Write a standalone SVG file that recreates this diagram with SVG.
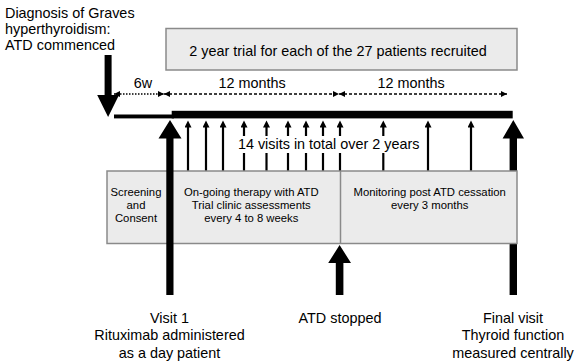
<svg xmlns="http://www.w3.org/2000/svg" width="575" height="361" viewBox="0 0 575 361">
<style>
text{font-family:"Liberation Sans",Arial,sans-serif;fill:#000}
.big{font-size:14.4px}
.sm{font-size:11.3px}
.mid{text-anchor:middle}
.box{fill:#ebebeb;stroke:#8a8a8a;stroke-width:1.5}
.div{stroke:#8a8a8a;stroke-width:1.5}
.v{stroke:#000;stroke-width:2.2;fill:none}
.dash{stroke:#000;stroke-width:1.4;stroke-dasharray:3 2;fill:none}
.dot{stroke:#000;stroke-width:1.4;stroke-dasharray:1.5 1.5;fill:none}
.solid{fill:#000}
</style>
<defs>
<marker id="sa" markerUnits="userSpaceOnUse" markerWidth="8" markerHeight="8" refX="2.5" refY="3.5" orient="auto"><path d="M0,0 L7,3.5 L0,7 z" fill="#000"/></marker>
<marker id="dh" markerUnits="userSpaceOnUse" markerWidth="7" markerHeight="7" refX="6" refY="3" orient="auto-start-reverse"><path d="M0,0 L6,3 L0,6 z" fill="#000"/></marker>
</defs>

<g id="diagnosis">
<text class="big" x="5" y="18.3">Diagnosis of Graves</text>
<text class="big" x="5" y="34.3">hyperthyroidism:</text>
<text class="big" x="5" y="50.2">ATD commenced</text>
</g>

<g id="trial-box">
<rect class="box" x="166" y="28.5" width="351" height="41.5"/>
<text class="big mid" x="338" y="55.5">2 year trial for each of the 27 patients recruited</text>
</g>

<g id="durations">
<text class="big mid" x="143" y="88.3">6w</text>
<text class="big mid" x="252" y="88.3">12 months</text>
<text class="big mid" x="411" y="88.3">12 months</text>
</g>

<g id="connectors">
<!-- hidden-under-box final visit arrow & ATD stopped arrow -->
<polygon class="solid" points="513.3,120 524,138.5 517,138.5 517,295 509.6,295 509.6,138.5 502.6,138.5"/>
<polygon class="solid" points="339.6,245 351,263 343.4,263 343.4,295 335.8,295 335.8,263 328.2,263"/>
<!-- duration arrows -->
<line class="dot" x1="114" y1="94" x2="164" y2="94" marker-start="url(#dh)" marker-end="url(#dh)"/>
<line class="dash" x1="164" y1="94" x2="339" y2="94" marker-start="url(#dh)" marker-end="url(#dh)"/>
<line class="dash" x1="339" y1="94" x2="507" y2="94" marker-start="url(#dh)" marker-end="url(#dh)"/>
<!-- diagnosis arrow -->
<polygon class="solid" points="104.6,55 111.6,55 111.6,95 119,95 108.1,117 97.2,95 104.6,95"/>
<!-- timeline -->
<rect class="solid" x="114" y="114.5" width="60" height="3.9"/>
<rect class="solid" x="171.7" y="110.8" width="341" height="7.6"/>
<!-- visit arrows: full -->
<line class="v" x1="188" y1="171" x2="188" y2="125" marker-end="url(#sa)"/>
<line class="v" x1="206" y1="171" x2="206" y2="125" marker-end="url(#sa)"/>
<line class="v" x1="223" y1="171" x2="223" y2="125" marker-end="url(#sa)"/>
<line class="v" x1="428" y1="171" x2="428" y2="125" marker-end="url(#sa)"/>
<line class="v" x1="471" y1="171" x2="471" y2="125" marker-end="url(#sa)"/>
<!-- visit arrows: broken by label -->
<line class="v" x1="244" y1="136" x2="244" y2="125" marker-end="url(#sa)"/>
<line class="v" x1="244" y1="153" x2="244" y2="171"/>
<line class="v" x1="266.5" y1="136" x2="266.5" y2="125" marker-end="url(#sa)"/>
<line class="v" x1="266.5" y1="153" x2="266.5" y2="171"/>
<line class="v" x1="288" y1="136" x2="288" y2="125" marker-end="url(#sa)"/>
<line class="v" x1="288" y1="153" x2="288" y2="171"/>
<line class="v" x1="306" y1="136" x2="306" y2="125" marker-end="url(#sa)"/>
<line class="v" x1="306" y1="153" x2="306" y2="171"/>
<line class="v" x1="323" y1="136" x2="323" y2="125" marker-end="url(#sa)"/>
<line class="v" x1="323" y1="153" x2="323" y2="171"/>
<line class="v" x1="340" y1="136" x2="340" y2="125" marker-end="url(#sa)"/>
<line class="v" x1="340" y1="153" x2="340" y2="171"/>
<line class="v" x1="383.3" y1="136" x2="383.3" y2="125" marker-end="url(#sa)"/>
<line class="v" x1="383.3" y1="153" x2="383.3" y2="171"/>
</g>

<g id="visits-label">
<text class="big mid" x="328.7" y="148.5">14 visits in total over 2 years</text>
</g>

<g id="phase-box">
<rect class="box" x="107" y="171" width="410" height="72.5"/>
<line class="div" x1="170" y1="171" x2="170" y2="243.5"/>
<line class="div" x1="340.5" y1="171" x2="340.5" y2="243.5"/>
</g>

<g id="screening">
<text class="sm mid" x="136" y="196">Screening</text>
<text class="sm mid" x="136" y="209">and</text>
<text class="sm mid" x="136" y="222">Consent</text>
</g>

<g id="ongoing">
<text class="sm mid" x="251.3" y="196">On-going therapy with ATD</text>
<text class="sm mid" x="251.3" y="209">Trial clinic assessments</text>
<text class="sm mid" x="251.3" y="222">every 4 to 8 weeks</text>
</g>

<g id="monitoring">
<text class="sm mid" x="429.7" y="196">Monitoring post ATD cessation</text>
<text class="sm mid" x="429.7" y="209">every 3 months</text>
</g>

<g id="visit1-arrow">
<polygon class="solid" points="170,120 181.5,138.5 173.5,138.5 173.5,295 166.3,295 166.3,138.5 158.5,138.5"/>
</g>

<g id="visit1">
<text class="big mid" x="169.5" y="322.7">Visit 1</text>
<text class="big mid" x="169.5" y="340.2">Rituximab administered</text>
<text class="big mid" x="169.5" y="357.7">as a day patient</text>
</g>

<g id="atd-stopped">
<text class="big mid" x="340" y="322.7">ATD stopped</text>
</g>

<g id="final-visit">
<text class="big mid" x="513" y="322.7">Final visit</text>
<text class="big mid" x="513" y="340.2">Thyroid function</text>
<text class="big mid" x="513" y="357.7">measured centrally</text>
</g>
</svg>
